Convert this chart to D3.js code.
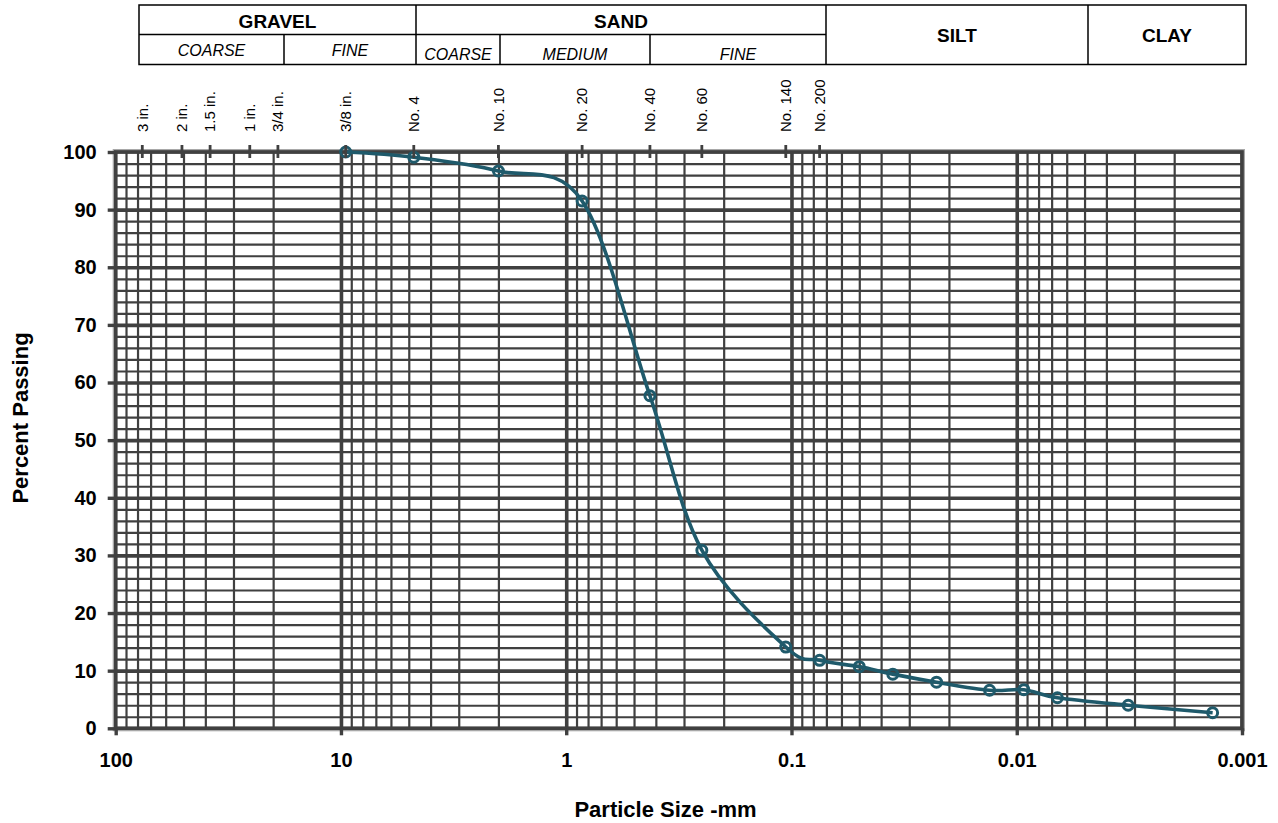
<!DOCTYPE html>
<html>
<head>
<meta charset="utf-8">
<script src="https://cdn.jsdelivr.net/npm/d3@7"></script>
<style>
  html, body { margin: 0; padding: 0; background: #fff; }
  svg { display: block; font-family: "Liberation Sans", Arial, sans-serif; }
</style>
</head>
<body>
<svg id="chart" width="1278" height="823"></svg>
<script>
// ---- data ----
const grainSizes = [9.525, 4.75, 2.0, 0.85, 0.425, 0.25, 0.106, 0.075, 0.05, 0.0355, 0.0227, 0.0132, 0.0093, 0.0066, 0.0032, 0.00135];
const percentPassing = [100, 99.1, 96.7, 91.5, 57.7, 30.9, 14.1, 11.8, 10.7, 9.4, 8.0, 6.6, 6.7, 5.3, 4.0, 2.7];

const sieveLabels = ["3 in.", "2 in.", "1.5 in.", "1 in.", "3/4 in.", "3/8 in.", "No. 4", "No. 10", "No. 20", "No. 40", "No. 60", "No. 140", "No. 200"];
const sieveSizes = [76.2, 50.8, 38.1, 25.4, 19.05, 9.525, 4.75, 2.0, 0.85, 0.425, 0.25, 0.106, 0.075];

const xTickValues = [100, 10, 1, 0.1, 0.01, 0.001];
const xTickLabels = ["100", "10", "1", "0.1", "0.01", "0.001"];
const yTickValues = [0, 10, 20, 30, 40, 50, 60, 70, 80, 90, 100];

const headerTop = ["GRAVEL", "SAND", "SILT", "CLAY"];
const headerSub = ["COARSE", "FINE", "COARSE", "MEDIUM", "FINE"];

// ---- layout ----
const L = 115.7, R = 1242, T = 152, B = 728.3;
const gridColor = "#404040";
const curveColor = "#1f5a6b";

const svg = d3.select("#chart");
const x = d3.scaleLog().domain([100, 0.001]).range([L, R]);
const y = d3.scaleLinear().domain([0, 100]).range([B, T]);

// ---- grid ----
const decades = [0.001, 0.01, 0.1, 1, 10];
const minorX = [];
decades.forEach(b => d3.range(2, 10).forEach(k => minorX.push(b * k)));
const majorX = [0.01, 0.1, 1, 10];
const minorY = d3.range(2, 100, 2).filter(v => v % 10 !== 0);
const majorY = d3.range(10, 100, 10);

// light outer shadow of plot area
svg.append("rect").attr("x", L - 2.5).attr("y", T - 2.5).attr("width", R - L + 5).attr("height", B - T + 5)
  .attr("fill", "none").attr("stroke", "#a8a8a8").attr("stroke-width", 1);

const grid = svg.append("g");
grid.append("g").call(d3.axisBottom(x).tickValues(minorX).tickSize(-(B - T)).tickFormat(""))
  .attr("transform", `translate(0,${B})`)
  .call(g => g.select(".domain").remove())
  .call(g => g.selectAll("line").attr("stroke", gridColor).attr("stroke-width", 2.2));
grid.append("g").call(d3.axisLeft(y).tickValues(minorY).tickSize(-(R - L)).tickFormat(""))
  .attr("transform", `translate(${L},0)`)
  .call(g => g.select(".domain").remove())
  .call(g => g.selectAll("line").attr("stroke", gridColor).attr("stroke-width", 2.2));
grid.append("g").call(d3.axisLeft(y).tickValues(majorY).tickSize(-(R - L)).tickFormat(""))
  .attr("transform", `translate(${L},0)`)
  .call(g => g.select(".domain").remove())
  .call(g => g.selectAll("line").attr("stroke", gridColor).attr("stroke-width", 3.6));
grid.append("g").call(d3.axisBottom(x).tickValues(majorX).tickSize(-(B - T)).tickFormat(""))
  .attr("transform", `translate(0,${B})`)
  .call(g => g.select(".domain").remove())
  .call(g => g.selectAll("line").attr("stroke", gridColor).attr("stroke-width", 3.6));

// border
svg.append("rect").attr("x", L).attr("y", T).attr("width", R - L).attr("height", B - T)
  .attr("fill", "none").attr("stroke", gridColor).attr("stroke-width", 3.8);

// ---- axes ----
svg.append("g").attr("transform", `translate(${L},0)`)
  .call(d3.axisLeft(y).tickValues(yTickValues).tickSize(8).tickPadding(11).tickFormat(d3.format("d")))
  .call(g => g.select(".domain").remove())
  .call(g => g.selectAll("line").attr("stroke", gridColor).attr("stroke-width", 3.4))
  .call(g => g.selectAll("text").attr("font-family", "Liberation Sans, Arial, sans-serif")
    .attr("font-size", 20).attr("font-weight", "bold").attr("fill", "#000"));

svg.append("g").attr("transform", `translate(0,${B})`)
  .call(d3.axisBottom(x).tickValues(xTickValues).tickSize(7).tickPadding(18)
    .tickFormat((d, i) => xTickLabels[i]))
  .call(g => g.select(".domain").remove())
  .call(g => g.selectAll("line").attr("stroke", gridColor).attr("stroke-width", 3.4))
  .call(g => g.selectAll("text").attr("font-family", "Liberation Sans, Arial, sans-serif")
    .attr("font-size", 20).attr("font-weight", "bold").attr("fill", "#000"));

// ---- curve ----
const pts = grainSizes.map((s, i) => ({ s, p: percentPassing[i] }));
const line = d3.line().x(d => x(d.s)).y(d => y(d.p)).curve(d3.curveCardinal.tension(0));
svg.append("path").datum(pts).attr("d", line)
  .attr("fill", "none").attr("stroke", curveColor).attr("stroke-width", 3.6).attr("stroke-linejoin", "round");
svg.append("g").selectAll("circle").data(pts).join("circle")
  .attr("cx", d => x(d.s)).attr("cy", d => y(d.p)).attr("r", 5)
  .attr("fill", "none").attr("stroke", curveColor).attr("stroke-width", 3);

// ---- sieve ticks ----
const sieves = sieveSizes.map((s, i) => ({ s, label: sieveLabels[i] }));
const sg = svg.append("g");
sg.selectAll("line").data(sieves).join("line")
  .attr("x1", d => x(d.s)).attr("x2", d => x(d.s)).attr("y1", T - 7).attr("y2", T + 6)
  .attr("stroke", gridColor).attr("stroke-width", 2.8);
sg.selectAll("text").data(sieves).join("text")
  .attr("transform", d => `translate(${x(d.s)},132) rotate(-90)`)
  .attr("dy", "0.35em").attr("text-anchor", "start")
  .attr("font-size", 15).attr("fill", "#000").text(d => d.label);

// ---- header table ----
const hx0 = 139, hx1 = 1246, hy0 = 5, hy1 = 64.5, hym = 34.5;
const colTop = [139, 416, 826, 1088, 1246];
const colSub = [139, 284, 416, 500, 650, 826];
const hg = svg.append("g").attr("stroke", "#000").attr("stroke-width", 1.5).attr("fill", "none");
hg.append("rect").attr("x", hx0).attr("y", hy0).attr("width", hx1 - hx0).attr("height", hy1 - hy0);
hg.append("line").attr("x1", hx0).attr("x2", colTop[2]).attr("y1", hym).attr("y2", hym);
[416, 826, 1088].forEach(v => hg.append("line").attr("x1", v).attr("x2", v).attr("y1", hy0).attr("y2", hy1));
[284, 500, 650].forEach(v => hg.append("line").attr("x1", v).attr("x2", v).attr("y1", hym).attr("y2", hy1));

const topY = [27.5, 27.5, 42, 42];
svg.append("g").selectAll("text").data(headerTop).join("text")
  .attr("x", (d, i) => (colTop[i] + colTop[i + 1]) / 2).attr("y", (d, i) => topY[i])
  .attr("text-anchor", "middle").attr("font-weight", "bold").attr("font-size", 19).attr("fill", "#000")
  .text(d => d);
const subY = [56, 56, 60, 60, 60];
svg.append("g").selectAll("text").data(headerSub).join("text")
  .attr("x", (d, i) => (colSub[i] + colSub[i + 1]) / 2).attr("y", (d, i) => subY[i])
  .attr("text-anchor", "middle").attr("font-style", "italic").attr("font-size", 16).attr("fill", "#000")
  .text(d => d);

// ---- axis titles ----
svg.append("text").attr("transform", "translate(20,418) rotate(-90)").attr("dy", "0.35em")
  .attr("text-anchor", "middle").attr("font-weight", "bold").attr("font-size", 22).attr("fill", "#000")
  .text("Percent Passing");
svg.append("text").attr("x", 665.5).attr("y", 816.5)
  .attr("text-anchor", "middle").attr("font-weight", "bold").attr("font-size", 22).attr("fill", "#000")
  .text("Particle Size -mm");
</script>
</body>
</html>
